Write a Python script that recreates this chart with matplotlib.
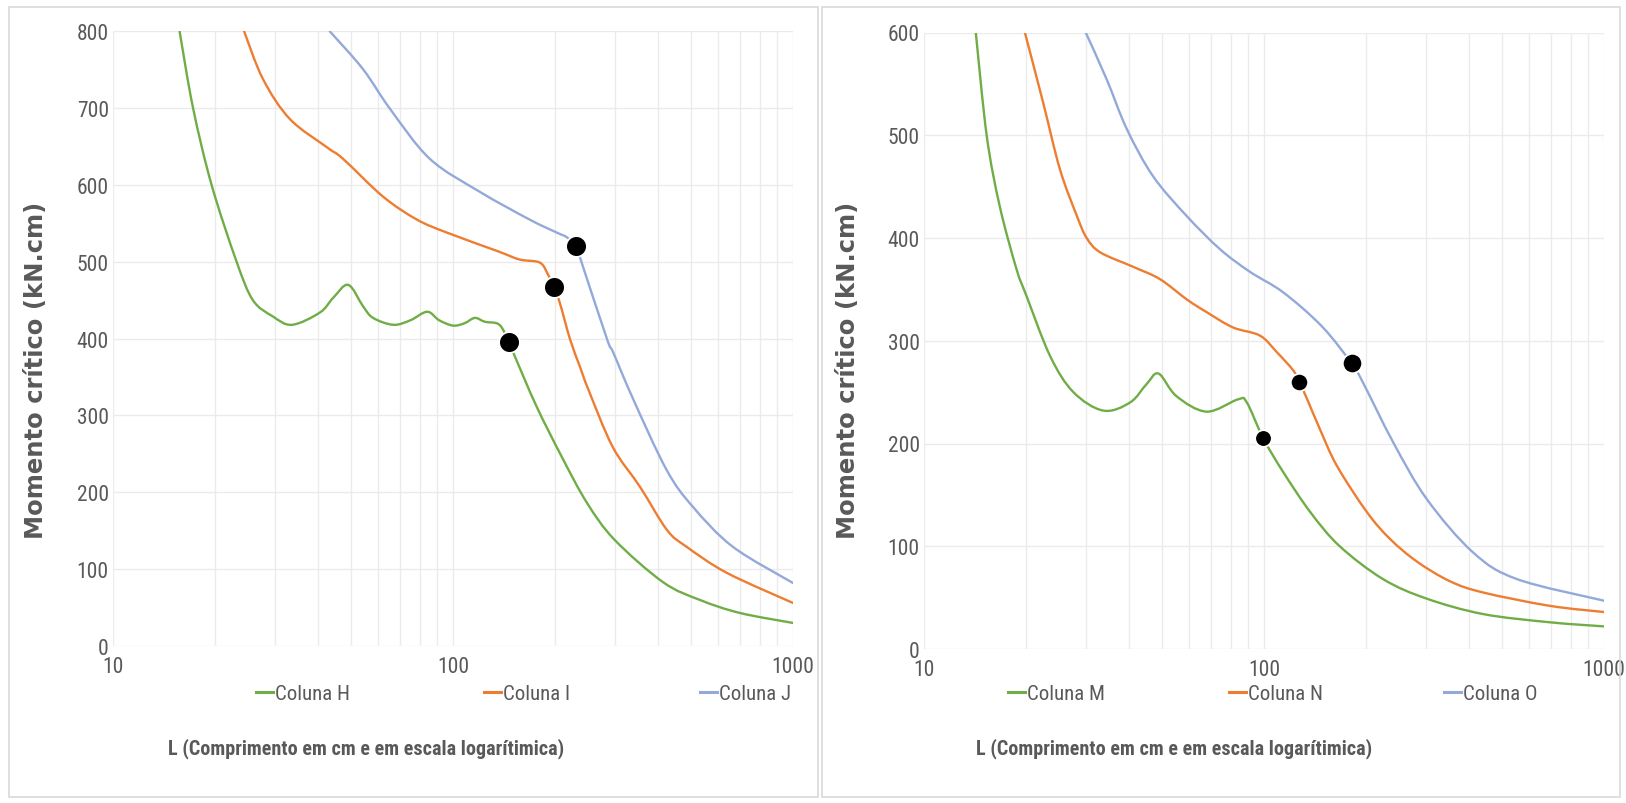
import matplotlib
matplotlib.use('Agg')
import numpy as np
import matplotlib.pyplot as plt
from matplotlib.patches import Rectangle, PathPatch
from matplotlib.path import Path
from matplotlib.lines import Line2D
from matplotlib.ticker import FixedLocator, FixedFormatter, LogLocator, NullFormatter

# ---------------- data ----------------
# Left chart
L_H = [15.7, 17.2, 19.5, 23.1, 25.8, 29.5, 33.6, 40.6, 44.4, 49.2, 54.4, 58.2, 66.8,
       75, 84, 91, 100, 108, 116, 124, 137, 146, 152, 176, 209, 248, 299, 415, 532, 698, 1000]
M_H = [800, 700, 600, 500, 450, 429, 418, 434, 453, 470, 442, 427, 418,
       424, 435, 424, 417, 420, 427, 422, 418, 395, 377, 312, 246, 186, 138, 83, 60, 43, 30]

L_I = [24.3, 27.6, 33.1, 42.6, 47.5, 62.2, 78.3, 96, 135, 157, 180, 190, 198, 206, 221,
       236, 250, 295, 355, 426, 487, 640, 1000]
M_I = [800, 738, 686, 649, 634, 585, 555, 538, 514, 503, 499, 484, 467, 447, 399,
       364, 334, 259, 207, 151, 129, 95, 56]

L_J = [43.4, 54.3, 65.3, 85.5, 120, 168, 202, 216, 230, 239, 284, 296, 339, 425,
       508, 666, 1000]
M_J = [800, 751, 699, 634, 591, 555, 538, 532, 520, 499, 399, 382, 321, 229,
       181, 129, 82]

crit_L_left = [146, 198, 230]
crit_M_left = [395, 467, 520]

# Right chart
L_M = [14.2, 15.3, 16.7, 18.7, 20.0, 23.5, 27.5, 33.7, 40.4, 45.2, 49.0, 55.3, 67.8, 83.9,
       89, 99.5, 114, 137, 167, 224, 301, 441, 693, 1000]
M_M = [600, 499, 431, 370, 344, 285, 250, 232, 240, 258, 268, 246, 231, 243,
       240, 205, 172, 133, 100, 68, 49, 34, 26, 22]

L_N = [19.8, 22.4, 25.1, 28.2, 30.1, 33, 41.2, 49.4, 59.4, 67.7, 81, 97.3, 109, 122, 127,
       134, 146, 164, 201, 235, 282, 352, 441, 693, 1000]
M_N = [600, 532, 467, 421, 400, 386, 372, 360, 340, 328, 313, 305, 289, 271, 260,
       243, 214, 178, 133, 107, 85, 66, 55, 42, 36]

L_O = [29.9, 34.5, 39.5, 47.2, 59.4, 74.3, 91, 114, 148, 181, 195, 240, 301,
       412, 555, 1000]
M_O = [600, 554, 506, 460, 421, 389, 367, 347, 314, 278, 260, 201, 146,
       94, 68, 47]

crit_L_right = [99.5, 127, 181]
crit_M_right = [205, 260, 278]

left_names = ['Coluna H', 'Coluna I', 'Coluna J']
right_names = ['Coluna M', 'Coluna N', 'Coluna O']
x_ticks = [10, 100, 1000]
x_ticklabels = ['10', '100', '1000']
xlabel = 'L (Comprimento em cm e em escala logarítimica)'
ylabel = 'Momento crítico (kN.cm)'

# ---------------- style ----------------
W, H = 1626, 804
GREEN, ORANGE, BLUE = '#70ad47', '#ed7d31', '#93a9d9'
TXT = '#595959'
GRID = '#ebebeb'
narrow = ['Liberation Sans Narrow', 'Roboto Condensed', 'Liberation Sans', 'DejaVu Sans']

fig = plt.figure(figsize=(W / 100, H / 100), dpi=100)

# chart-area borders
for (x0, x1) in [(9, 818), (822, 1620)]:
    fig.add_artist(Rectangle((x0 / W, 1 - 798 / H), (x1 - x0) / W, 790 / H,
                             transform=fig.transFigure, fill=False,
                             ec='#d9d9d9', lw=1.2))


def smooth_path(L, M):
    """Smoothed line through the data points (Bezier segments in log10(x) space)."""
    lx = np.log10(np.asarray(L, float))
    y = np.asarray(M, float)
    P = np.column_stack([lx, y])
    n = len(P)
    verts = [P[0]]
    codes = [Path.MOVETO]
    for i in range(n - 1):
        p0 = P[i - 1] if i > 0 else P[i]
        p1, p2 = P[i], P[i + 1]
        p3 = P[i + 2] if i + 2 < n else P[i + 1]
        c1 = p1 + (p2 - p0) / 6.0
        c2 = p2 - (p3 - p1) / 6.0
        verts += [c1, c2, p2]
        codes += [Path.CURVE4] * 3
    V = np.array(verts)
    V[:, 0] = 10 ** V[:, 0]
    return Path(V, codes)


def make_axes(px_left, px_top, px_bottom, ymax):
    ax = fig.add_axes([px_left / W, 1 - px_bottom / H, 680 / W, (px_bottom - px_top) / H])
    ax.set_xscale('log')
    ax.set_xlim(10, 1000)
    ax.set_ylim(0, ymax)
    ax.set_yticks(list(range(0, ymax + 1, 100)))
    ax.xaxis.set_major_locator(FixedLocator(x_ticks))
    ax.xaxis.set_major_formatter(FixedFormatter(x_ticklabels))
    ax.xaxis.set_minor_locator(LogLocator(base=10, subs=range(2, 10)))
    ax.xaxis.set_minor_formatter(NullFormatter())
    ax.grid(True, which='major', color=GRID, lw=1)
    ax.grid(True, which='minor', axis='x', color=GRID, lw=1)
    ax.set_axisbelow(True)
    for s in ax.spines.values():
        s.set_visible(False)
    ax.tick_params(which='both', length=0, colors=TXT, labelsize=15.5, pad=3)
    ax.tick_params(axis='x', pad=7)
    for lab in ax.get_xticklabels() + ax.get_yticklabels():
        lab.set_family(narrow)
    return ax


def draw(ax, series, names, crit_L, crit_M, msizes, leg_xs, xlab_x, ylab_x):
    for (L, M, c), n, lx in zip(series, names, leg_xs):
        patch = PathPatch(smooth_path(L, M), fill=False, ec=c, lw=1.7,
                          joinstyle='round', capstyle='round', zorder=3)
        ax.add_patch(patch)
        h = Line2D([], [], color=c, lw=2.2, label=n)
        fig.legend(handles=[h], loc='center left', bbox_to_anchor=(lx / W, 1 - 695 / H),
                   frameon=False, handlelength=0.8, handletextpad=0.12,
                   borderpad=0, borderaxespad=0,
                   prop={'family': narrow, 'size': 15}, labelcolor=TXT)
    for xm, ym, ms in zip(crit_L, crit_M, msizes):
        ax.plot([xm], [ym], 'o', color='black', ms=ms, mec='white', mew=1.3, zorder=5)
    fig.text(xlab_x / W, 1 - 749 / H, xlabel, ha='center', va='center', color=TXT,
             fontsize=14.5, fontweight='bold', family=narrow)
    fig.text(ylab_x / W, 1 - 370 / H, ylabel, ha='center', va='center', color=TXT,
             fontsize=17.5, fontweight='bold', rotation=90, family='DejaVu Sans')


axL = make_axes(113, 32.3, 647, 800)
draw(axL, [(L_H, M_H, GREEN), (L_I, M_I, ORANGE), (L_J, M_J, BLUE)], left_names,
     crit_L_left, crit_M_left, [15, 15, 15], [256, 484, 700], 366, 36)

axR = make_axes(924, 33.5, 650, 600)
draw(axR, [(L_M, M_M, GREEN), (L_N, M_N, ORANGE), (L_O, M_O, BLUE)], right_names,
     crit_L_right, crit_M_right, [12, 12.5, 14], [1008, 1229, 1444], 1174, 848)

fig.savefig('out.png', dpi=100)
